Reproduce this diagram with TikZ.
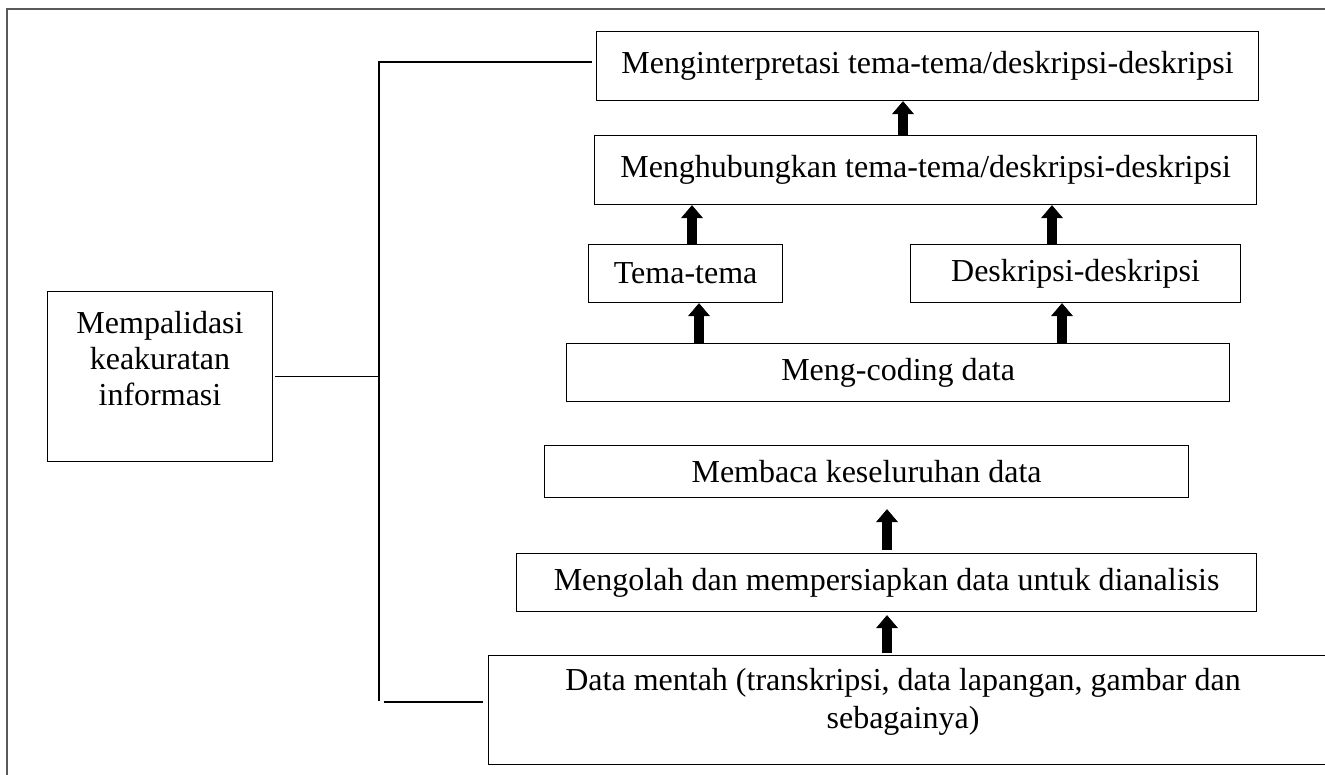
\documentclass[tikz,border=0pt]{standalone}
\usepackage{fontspec}
\setmainfont{Liberation Serif}
\usetikzlibrary{arrows.meta,calc}
\begin{document}
\begin{tikzpicture}[x=1pt,y=-1pt,
  txt/.style={font=\fontsize{32}{38.5}\selectfont, inner sep=0pt},
  box/.style={draw=black, line width=1.2pt, inner sep=0pt, anchor=north west, txt},
  conn/.style={draw=black, line width=1.2pt},
  uparrow/.style={line width=10pt, -{Triangle[width=22pt,length=13pt,line width=0.6pt]}},
  frame/.style={draw=black!65, line width=2pt}]
\useasboundingbox (0,0) rectangle (1325,774);
\clip (0,0) rectangle (1325,774);
\fill[white] (0,0) rectangle (1325,774);
% outer frame (open to the right and bottom)
\draw[frame] (7,800) -- (7,9) -- (1340,9);
% boxes
\node[box, minimum width=662pt, minimum height=69pt] (b1) at (596,31) {Menginterpretasi tema-tema/deskripsi-deskripsi};
\node[box, minimum width=662pt, minimum height=69pt] (b2) at (594,135) {Menghubungkan tema-tema/deskripsi-deskripsi};
\node[box, minimum width=194pt, minimum height=58pt] (tema) at (588,244) {Tema-tema};
\node[box, minimum width=330pt, minimum height=58pt] (desk) at (910,244) {Deskripsi-deskripsi};
\node[box, minimum width=663pt, minimum height=58pt] (code) at (566,343) {Meng-coding data};
\node[box, minimum width=644pt, minimum height=52pt] (baca) at (544,445) {Membaca keseluruhan data};
\node[box, minimum width=740pt, minimum height=58pt] (olah) at (516,553) {Mengolah dan mempersiapkan data untuk dianalisis};
\node[box, minimum width=840pt, minimum height=109pt] (data) at (488,655) {};
\node[txt, align=center] (datat) at (903,702) {Data mentah (transkripsi, data lapangan, gambar dan\\sebagainya)};
\node[box, minimum width=225pt, minimum height=170pt] (memp) at (47,291) {};
\node[txt, align=center, font=\fontsize{32}{36}\selectfont] (mempt) at (160,359) {Mempalidasi\\keakuratan\\informasi};
% arrow columns
\coordinate (x1) at (903,0);
\coordinate (x2) at (692,0);
\coordinate (x3) at (1052,0);
\coordinate (x4) at (699,0);
\coordinate (x5) at (1062,0);
\coordinate (x6) at (887,0);
\draw[uparrow] (b2.north -| x1) -- (b1.south -| x1);
\draw[uparrow] (tema.north -| x2) -- (b2.south -| x2);
\draw[uparrow] (desk.north -| x3) -- (b2.south -| x3);
\draw[uparrow] (code.north -| x4) -- (tema.south -| x4);
\draw[uparrow] (code.north -| x5) -- (desk.south -| x5);
\draw[uparrow, shorten <=3pt, shorten >=11pt] (olah.north -| x6) -- (baca.south -| x6);
\draw[uparrow, shorten <=2pt, shorten >=3pt] (data.north -| x6) -- (olah.south -| x6);
% bracket
\coordinate (vx) at (379,0);
\coordinate (tl) at ($(b1.north west)+(-4,31)$);
\coordinate (bl) at ($(data.north west)+(-5,47)$);
\draw[conn] (tl) -- (tl -| vx) -- (379,701);
\draw[conn] ([xshift=2pt]memp.east) -- (memp.east -| vx);
\draw[conn] (bl) -- ($(bl -| vx)+(5,0)$);
\end{tikzpicture}
\end{document}
